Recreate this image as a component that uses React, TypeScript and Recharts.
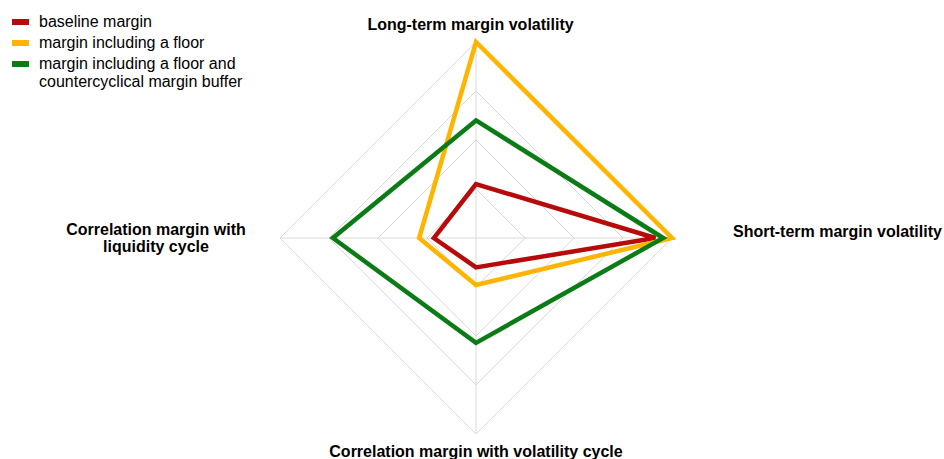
import React from 'react';
import { RadarChart, Radar, PolarGrid, PolarAngleAxis, PolarRadiusAxis } from 'recharts';

const categories = [
  'Long-term margin volatility',
  'Short-term margin volatility',
  'Correlation margin with volatility cycle',
  'Correlation margin with\nliquidity cycle',
];
const baselineMargin = [0.275, 0.915, 0.15, 0.215];
const marginFloor = [1.0, 1.0, 0.24, 0.29];
const marginFloorBuffer = [0.6, 0.955, 0.535, 0.73];
const seriesKeys = ['baseline', 'floor', 'buffer'];
const seriesNames = [
  'baseline margin',
  'margin including a floor',
  'margin including a floor and\ncountercyclical margin buffer',
];
const seriesColors = ['#b70b0b', '#ffb400', '#0b7b16'];
const radiusTicks = [0, 0.25, 0.5, 0.75, 1];

const data = categories.map((c, i) => ({
  category: c,
  baseline: baselineMargin[i],
  floor: marginFloor[i],
  buffer: marginFloorBuffer[i],
}));

const FONT = '"Liberation Sans", Arial, sans-serif';

const AngleTick = (props: any) => {
  const { x, y, payload, textAnchor } = props;
  const lines = String(payload.value).split('\n');
  let tx = x;
  let ty = y;
  let anchor = textAnchor;
  if (textAnchor === 'middle' && y < 238) {
    tx = x - 5.5;
    ty = y - 4;
  } else if (textAnchor === 'middle') {
    ty = y + 15;
  } else if (textAnchor === 'start') {
    tx = x + 53;
    ty = y - 1;
  } else {
    tx = x - 116;
    ty = y - 3.5;
    anchor = 'middle';
  }
  return (
    <text x={tx} y={ty} textAnchor={anchor} fontFamily={FONT} fontSize={16} fontWeight="bold" fill="#000">
      {lines.map((l, i) => (
        <tspan key={i} x={tx} dy={i === 0 ? 0 : 17}>
          {l}
        </tspan>
      ))}
    </text>
  );
};

const LegendOverlay = () => {
  const swatchY = [19, 40, 61];
  const textY = [27, 48, 69];
  return (
    <svg width={300} height={100} style={{ position: 'absolute', left: 0, top: 0 }}>
      {seriesNames.map((name, i) => {
        const lines = name.split('\n');
        return (
          <g key={i}>
            <rect x={12} y={swatchY[i]} width={17} height={6} fill={seriesColors[i]} />
            <text x={39} y={textY[i]} fontFamily={FONT} fontSize={16} fill="#000">
              {lines.map((l, j) => (
                <tspan key={j} x={39} dy={j === 0 ? 0 : 18}>
                  {l}
                </tspan>
              ))}
            </text>
          </g>
        );
      })}
    </svg>
  );
};

export default function App() {
  return (
    <div style={{ position: 'absolute', left: 0, top: 0, width: 944, height: 459, background: '#fff' }}>
      <RadarChart
        width={944}
        height={459}
        data={data}
        cx={476}
        cy={238}
        outerRadius={196}
        margin={{ top: 0, right: 0, bottom: 0, left: 0 }}
        startAngle={90}
        endAngle={-270}
      >
        <PolarGrid gridType="polygon" stroke="#d9d9d9" strokeWidth={1} />
        <PolarRadiusAxis domain={[0, 1]} ticks={radiusTicks as any} tickCount={5} axisLine={false} tick={false} />
        <PolarAngleAxis dataKey="category" tick={<AngleTick />} tickLine={false} axisLine={false} />
        {seriesKeys.map((k, i) => (
          <Radar
            key={k}
            dataKey={k}
            name={seriesNames[i]}
            stroke={seriesColors[i]}
            strokeWidth={4.5}
            fill="none"
            fillOpacity={0}
            isAnimationActive={false}
            dot={false}
          />
        ))}
      </RadarChart>
      <LegendOverlay />
    </div>
  );
}
